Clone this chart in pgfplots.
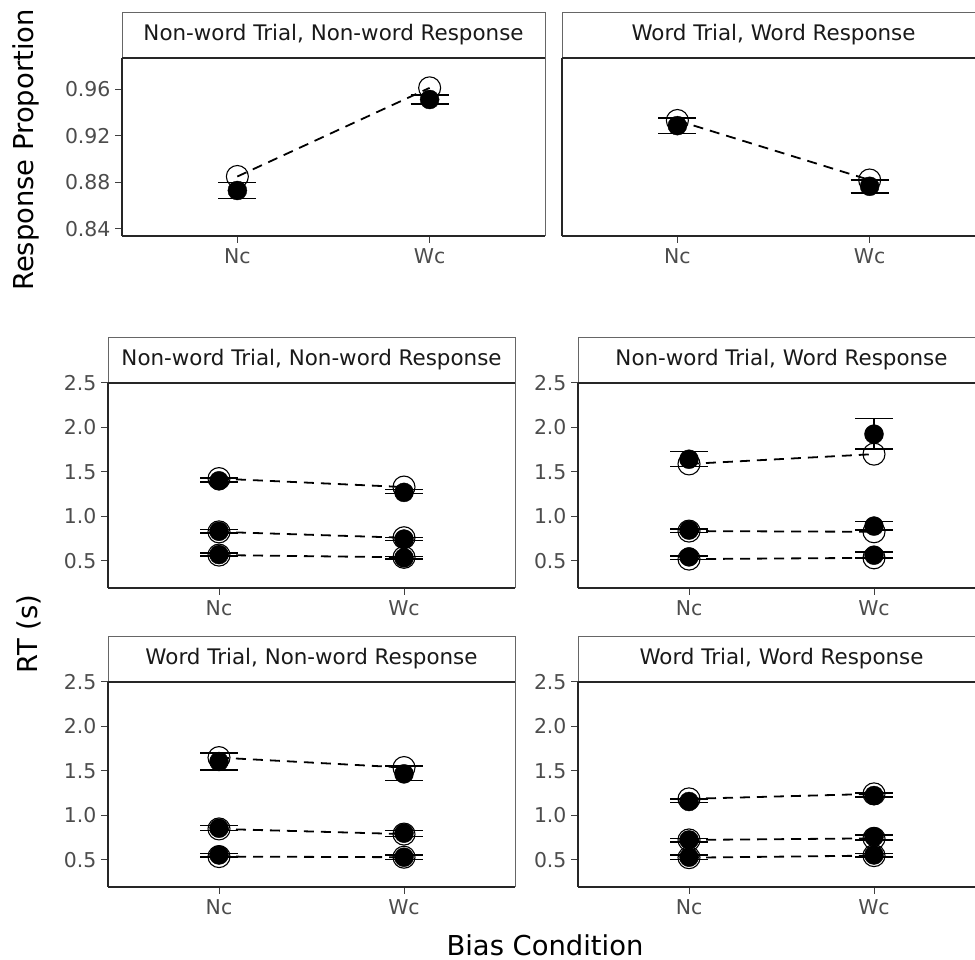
\documentclass[border=0pt]{standalone}
\usepackage{pgfplots}
\pgfplotsset{compat=1.18}
\usepackage{fontspec}
\setmainfont{DejaVu Sans}
\definecolor{gtick}{gray}{0.30}
\definecolor{gstrip}{gray}{0.10}
\pgfplotsset{
  panel/.style={scale only axis, anchor=south west, clip=false,
    xmin=0.4, xmax=2.6, xtick={1,2}, xticklabels={Nc,Wc},
    axis x line*=bottom, axis y line*=left,
    axis line style={line width=1.4bp, black!85, -},
    tick align=outside, major tick length=7bp,
    tick style={line width=1bp, black!75},
    ticklabel style={font=\fontsize{20.5}{24}\selectfont, text=gtick},
    xticklabel style={yshift=-2bp},
    yticklabel style={xshift=-1bp}},
  rt/.style={panel, width=407bp, height=205bp, ymin=0.195, ymax=2.5,
    ytick={0.5,1,1.5,2,2.5}, yticklabels={0.5,1.0,1.5,2.0,2.5}},
  prop/.style={panel, width=423bp, height=178bp, ymin=0.834, ymax=0.9866},
  modelline/.style={black, line width=1.8bp, dash pattern=on 10bp off 7bp, mark=none},
  modelpt/.style={only marks, mark=o, mark size=11bp, mark options={line width=1.1bp, black, solid}},
  datapt/.style={only marks, mark=*, mark size=9.5bp, mark options={fill=black, draw=black, solid}},
  ebar/.style={draw=none, mark=none,
    error bars/.cd, y dir=both, y explicit, error mark=|,
    error bar style={line width=1.5bp, black, solid},
    error mark options={line width=1.5bp, black, mark size=19bp, solid}},
}
\newcommand{\strip}[1]{%
  \draw[black!60, line width=0.8bp] (rel axis cs:0,1) rectangle ([yshift=46bp]rel axis cs:1,1);
  \draw[black!60, line width=0.8bp] (rel axis cs:1,0) -- (rel axis cs:1,1);
  \draw[black!85, line width=1.4bp] (rel axis cs:0,1) -- (rel axis cs:1,1);
  \node[font=\fontsize{21.5}{25}\selectfont, text=gstrip] at ([yshift=23bp]rel axis cs:0.5,1) {#1};}
\begin{document}
\begin{tikzpicture}
\path[use as bounding box] (0,0) rectangle (975bp,960bp);
\clip (0,0) rectangle (975bp,960bp);

% ---------- top left: proportion ----------
\begin{axis}[prop, at={(122bp,724bp)},
  ytick={0.84,0.88,0.92,0.96}, yticklabels={0.84,0.88,0.92,0.96}]
\addplot[modelline] coordinates {(1,0.885) (2,0.961)};
\addplot[modelpt] coordinates {(1,0.885) (2,0.961)};
\addplot[datapt] coordinates {(1,0.873) (2,0.951)};
\addplot[ebar] table[x=x, y=lo, y error plus expr=\thisrow{hi}-\thisrow{lo}, y error minus expr=0] {
x lo hi
1 0.866 0.880
2 0.947 0.955
};
\strip{Non-word Trial, Non-word Response}
\end{axis}

% ---------- top right: proportion ----------
\begin{axis}[prop, at={(562bp,724bp)}, ytick=\empty]
\addplot[modelline] coordinates {(1,0.933) (2,0.882)};
\addplot[modelpt] coordinates {(1,0.933) (2,0.882)};
\addplot[datapt] coordinates {(1,0.9286) (2,0.8766)};
\addplot[ebar] table[x=x, y=lo, y error plus expr=\thisrow{hi}-\thisrow{lo}, y error minus expr=0] {
x lo hi
1 0.922 0.935
2 0.871 0.882
};
\strip{Word Trial, Word Response}
\end{axis}

% ---------- middle left: RT ----------
\begin{axis}[rt, at={(108bp,372bp)}]
\addplot[modelline] coordinates {(1,0.565) (2,0.540)};
\addplot[modelline] coordinates {(1,0.826) (2,0.760)};
\addplot[modelline] coordinates {(1,1.425) (2,1.330)};
\addplot[modelpt] coordinates {(1,0.565) (2,0.540) (1,0.826) (2,0.760) (1,1.425) (2,1.330)};
\addplot[datapt] coordinates {(1,0.571) (2,0.534) (1,0.833) (2,0.745) (1,1.400) (2,1.270)};
\addplot[ebar] table[x=x, y=lo, y error plus expr=\thisrow{hi}-\thisrow{lo}, y error minus expr=0] {
x lo hi
1 0.556 0.586
2 0.520 0.550
1 0.815 0.850
2 0.730 0.765
1 1.384 1.430
2 1.257 1.300
};
\strip{Non-word Trial, Non-word Response}
\end{axis}

% ---------- middle right: RT ----------
\begin{axis}[rt, at={(578bp,372bp)}]
\addplot[modelline] coordinates {(1,0.520) (2,0.534)};
\addplot[modelline] coordinates {(1,0.835) (2,0.827)};
\addplot[modelline] coordinates {(1,1.590) (2,1.700)};
\addplot[modelpt] coordinates {(1,0.520) (2,0.534) (1,0.835) (2,0.827) (1,1.590) (2,1.700)};
\addplot[datapt] coordinates {(1,0.545) (2,0.564) (1,0.846) (2,0.891) (1,1.643) (2,1.925)};
\addplot[ebar] table[x=x, y=lo, y error plus expr=\thisrow{hi}-\thisrow{lo}, y error minus expr=0] {
x lo hi
1 0.515 0.553
2 0.534 0.600
1 0.820 0.860
2 0.846 0.940
1 1.560 1.729
2 1.760 2.098
};
\strip{Non-word Trial, Word Response}
\end{axis}

% ---------- bottom left: RT ----------
\begin{axis}[rt, at={(108bp,73bp)}]
\addplot[modelline] coordinates {(1,0.537) (2,0.530)};
\addplot[modelline] coordinates {(1,0.848) (2,0.790)};
\addplot[modelline] coordinates {(1,1.650) (2,1.538)};
\addplot[modelpt] coordinates {(1,0.537) (2,0.530) (1,0.848) (2,0.790) (1,1.650) (2,1.538)};
\addplot[datapt] coordinates {(1,0.555) (2,0.530) (1,0.856) (2,0.800) (1,1.606) (2,1.467)};
\addplot[ebar] table[x=x, y=lo, y error plus expr=\thisrow{hi}-\thisrow{lo}, y error minus expr=0] {
x lo hi
1 0.530 0.570
2 0.505 0.555
1 0.830 0.885
2 0.765 0.830
1 1.512 1.700
2 1.392 1.557
};
\strip{Word Trial, Non-word Response}
\end{axis}

% ---------- bottom right: RT ----------
\begin{axis}[rt, at={(578bp,73bp)}]
\addplot[modelline] coordinates {(1,0.525) (2,0.548)};
\addplot[modelline] coordinates {(1,0.724) (2,0.742)};
\addplot[modelline] coordinates {(1,1.186) (2,1.242)};
\addplot[modelpt] coordinates {(1,0.525) (2,0.548) (1,0.724) (2,0.742) (1,1.186) (2,1.242)};
\addplot[datapt] coordinates {(1,0.530) (2,0.555) (1,0.724) (2,0.760) (1,1.156) (2,1.223)};
\addplot[ebar] table[x=x, y=lo, y error plus expr=\thisrow{hi}-\thisrow{lo}, y error minus expr=0] {
x lo hi
1 0.505 0.555
2 0.530 0.570
1 0.700 0.740
2 0.724 0.780
1 1.145 1.185
2 1.205 1.250
};
\strip{Word Trial, Word Response}
\end{axis}

% ---------- axis titles ----------
\node[rotate=90, font=\fontsize{27.5}{32}\selectfont] at (26bp,810bp) {Response Proportion};
\node[rotate=90, font=\fontsize{27.5}{32}\selectfont] at (29bp,326bp) {RT (s)};
\node[font=\fontsize{27.5}{32}\selectfont] at (545bp,15bp) {Bias Condition};
\end{tikzpicture}
\end{document}
